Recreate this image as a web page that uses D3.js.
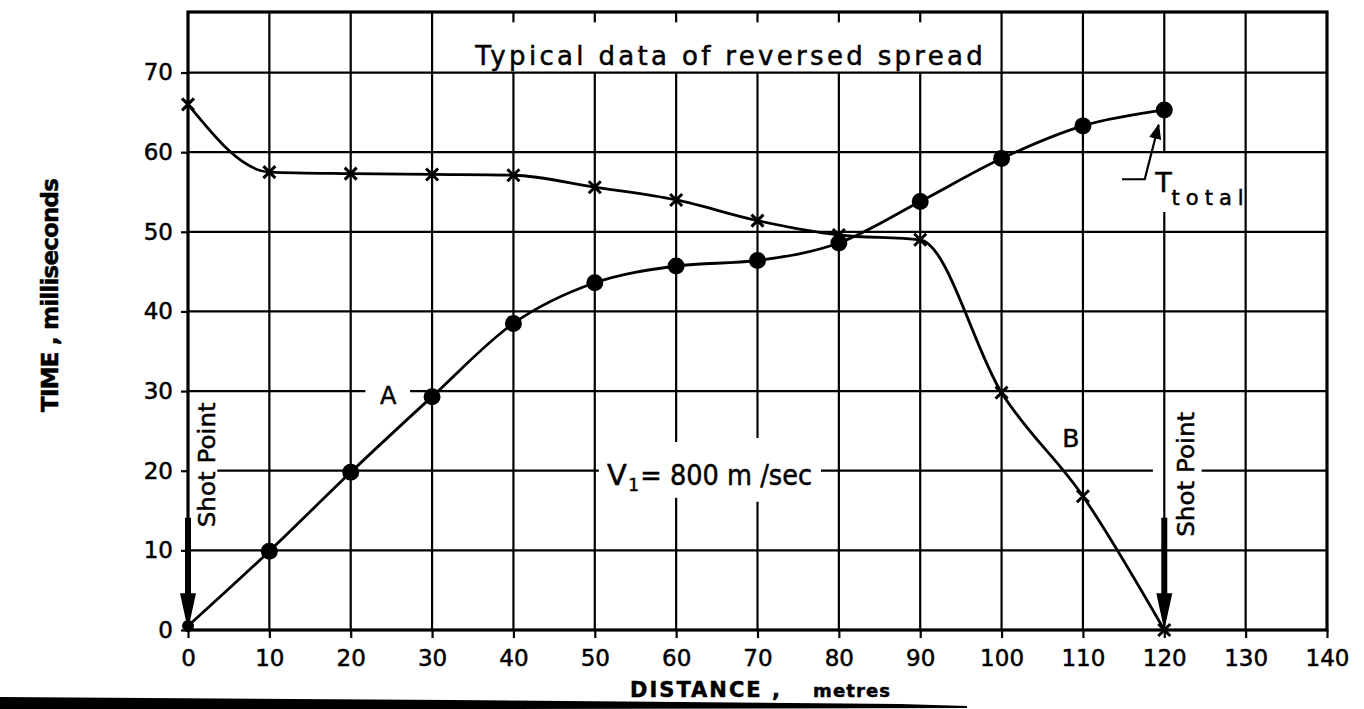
<!DOCTYPE html>
<html>
<head>
<meta charset="utf-8">
<script src="https://cdn.jsdelivr.net/npm/d3@7"></script>
<style>
  html, body { margin: 0; padding: 0; background: #fff; }
  svg { display: block; }
  text { font-family: "DejaVu Sans", sans-serif; fill: #000; stroke: #000; stroke-width: 0.5px; }
</style>
</head>
<body>
<svg width="1364" height="709"></svg>
<script>
// distance along the spread (metres) and arrival times (ms)
const distance = [0, 10, 20, 30, 40, 50, 60, 70, 80, 90, 100, 110, 120];
const timeA = [0.5, 9.9, 19.8, 29.3, 38.5, 43.6, 45.7, 46.4, 48.6, 53.8, 59.2, 63.3, 65.3];
const timeB = [66.0, 57.5, 57.3, 57.2, 57.1, 55.6, 54.0, 51.4, 49.6, 49.0, 29.8, 16.8, 0];

const xTicks = [0, 10, 20, 30, 40, 50, 60, 70, 80, 90, 100, 110, 120, 130, 140];
const yTicks = [0, 10, 20, 30, 40, 50, 60, 70];

const svg = d3.select("svg");
const x = d3.scaleLinear().domain([0, 140]).range([188, 1327]);
const y = d3.scaleLinear().domain([0, 77.6]).range([630, 12]);

// gaps in the grid, where labels sit (data units)
const hGaps = {
  20: [[0, 3.6], [50.5, 77.8], [118.6, 124.6]],
  30: [[21.8, 27.3]]
};
const vGaps = {
  40: [[70, 76.3]], 50: [[70, 76.3]],
  60: [[16.6, 23.6], [70, 76.3]],
  70: [[16.1, 24.1], [70, 76.3]],
  80: [[70, 76.3]], 90: [[70, 76.3]],
  120: [[52.5, 60]]
};

function split(lo, hi, gaps) {
  let segs = [];
  let start = lo;
  for (let g of (gaps || [])) {
    if (g[0] > start) segs.push([start, g[0]]);
    start = g[1];
  }
  if (start < hi) segs.push([start, hi]);
  return segs;
}

let grid = svg.append("g").attr("class", "grid")
  .attr("stroke", "#000").attr("stroke-width", 2.2);
for (let t of yTicks.slice(1)) {
  for (let s of split(0, 140, hGaps[t])) {
    grid.append("line")
      .attr("x1", x(s[0])).attr("x2", x(s[1]))
      .attr("y1", y(t)).attr("y2", y(t));
  }
}
for (let t of xTicks.slice(1, -1)) {
  for (let s of split(0, 77.6, vGaps[t])) {
    grid.append("line")
      .attr("x1", x(t)).attr("x2", x(t))
      .attr("y1", y(s[0])).attr("y2", y(s[1]));
  }
}

// frame
svg.append("rect")
  .attr("x", x(0)).attr("y", y(77.6))
  .attr("width", x(140) - x(0)).attr("height", y(0) - y(77.6))
  .attr("fill", "none").attr("stroke", "#000").attr("stroke-width", 3.2);

// axes
let xAxis = svg.append("g")
  .attr("transform", "translate(0," + y(0) + ")")
  .call(d3.axisBottom(x).tickValues(xTicks).tickSize(8).tickPadding(12));
let yAxis = svg.append("g")
  .attr("transform", "translate(" + x(0) + ",0)")
  .call(d3.axisLeft(y).tickValues(yTicks).tickSize(7).tickPadding(8));
for (let ax of [xAxis, yAxis]) {
  ax.select(".domain").remove();
  ax.selectAll(".tick line").attr("stroke", "#000").attr("stroke-width", 2.2);
  ax.selectAll(".tick text")
    .attr("font-size", 23)
    .attr("font-family", "DejaVu Sans, sans-serif")
    .attr("fill", "#000");
}

// curves
let line = d3.line()
  .x((d, i) => x(distance[i]))
  .y((d) => y(d))
  .curve(d3.curveMonotoneX);

svg.append("path").datum(timeA)
  .attr("d", line).attr("fill", "none")
  .attr("stroke", "#000").attr("stroke-width", 2.8);
svg.append("path").datum(timeB)
  .attr("d", line).attr("fill", "none")
  .attr("stroke", "#000").attr("stroke-width", 2.8);

svg.append("g").selectAll("circle")
  .data(timeA)
  .enter()
  .append("circle")
  .attr("cx", (d, i) => x(distance[i]))
  .attr("cy", (d) => y(d))
  .attr("r", (d, i) => i === 0 ? 6 : 8.5)
  .attr("fill", "#000");

svg.append("g").selectAll("path")
  .data(timeB)
  .enter()
  .append("path")
  .attr("transform", (d, i) => "translate(" + x(distance[i]) + "," + y(d) + ")")
  .attr("d", "M-6,-6L6,6M-6,6L6,-6")
  .attr("stroke", "#000").attr("stroke-width", 3).attr("fill", "none");

// shot point arrows
for (let sp of [0, 120]) {
  svg.append("line")
    .attr("x1", x(sp)).attr("x2", x(sp))
    .attr("y1", y(14.1)).attr("y2", y(4.2))
    .attr("stroke", "#000").attr("stroke-width", 6);
  svg.append("path")
    .attr("d", `M${x(sp) - 8},${y(4.6)}L${x(sp) + 8},${y(4.6)}L${x(sp)},${y(0)}Z`)
    .attr("fill", "#000");
}

// labels
svg.append("rect")
  .attr("x", x(30) + 2).attr("y", y(77.6) + 12)
  .attr("width", x(100) - x(30) - 4).attr("height", y(70) - y(77.6) - 14)
  .attr("fill", "#fff");
svg.append("text")
  .attr("x", x(35.3)).attr("y", y(70.9))
  .attr("font-size", 26)
  .attr("textLength", x(97.7) - x(35.3))
  .attr("lengthAdjust", "spacing")
  .text("Typical data of reversed spread");

svg.append("text")
  .attr("x", x(24.6)).attr("y", y(29.4))
  .attr("font-size", 24).attr("text-anchor", "middle")
  .attr("dominant-baseline", "central")
  .text("A");
svg.append("text")
  .attr("x", x(108.5)).attr("y", y(24.1))
  .attr("font-size", 25).attr("text-anchor", "middle")
  .attr("dominant-baseline", "central")
  .text("B");

svg.append("text")
  .attr("x", x(51.5)).attr("y", y(18.2))
  .attr("font-size", 29)
  .text("V");
svg.append("text")
  .attr("x", x(54.1)).attr("y", y(17.4))
  .attr("font-size", 17)
  .text("1");
svg.append("text")
  .attr("x", x(55.6)).attr("y", y(18.2))
  .attr("font-size", 28)
  .attr("textLength", x(76.7) - x(55.6))
  .attr("lengthAdjust", "spacingAndGlyphs")
  .text("= 800 m /sec");

for (let sp of [[3.3, 12.9], [123.7, 11.7]]) {
  svg.append("text")
    .attr("transform", "translate(" + x(sp[0]) + "," + y(sp[1]) + ") rotate(-90)")
    .attr("font-size", 23)
    .attr("textLength", 125)
    .attr("lengthAdjust", "spacingAndGlyphs")
    .text("Shot Point");
}

// T total leader
svg.append("defs").append("marker")
  .attr("id", "head")
  .attr("viewBox", "0 0 10 10")
  .attr("refX", 9).attr("refY", 5)
  .attr("markerWidth", 7).attr("markerHeight", 7)
  .attr("orient", "auto")
  .append("path").attr("d", "M0,1L10,5L0,9Z").attr("fill", "#000");
svg.append("path")
  .attr("d", d3.line()([[x(114.8), y(56.6)], [x(117.6), y(56.6)], [x(119.3), y(63.4)]]))
  .attr("fill", "none").attr("stroke", "#000").attr("stroke-width", 2.2)
  .attr("marker-end", "url(#head)");
svg.append("text")
  .attr("x", x(118.9)).attr("y", y(55.0))
  .attr("font-size", 27)
  .text("T");
svg.append("text")
  .attr("x", x(120.9)).attr("y", y(53.4))
  .attr("font-size", 21)
  .attr("textLength", 72)
  .attr("lengthAdjust", "spacing")
  .text("total");

// axis titles
svg.append("text")
  .attr("x", 630).attr("y", 697)
  .attr("font-size", 21).attr("font-weight", "bold")
  .attr("textLength", 150)
  .attr("lengthAdjust", "spacing")
  .text("DISTANCE ,");
svg.append("text")
  .attr("x", 813).attr("y", 697)
  .attr("font-size", 18).attr("font-weight", "bold")
  .attr("textLength", 77)
  .attr("lengthAdjust", "spacing")
  .text("metres");
svg.append("text")
  .attr("transform", "translate(58,412) rotate(-90)")
  .attr("font-size", 23).attr("font-weight", "bold")
  .attr("textLength", 234)
  .attr("lengthAdjust", "spacing")
  .text("TIME , milliseconds");

// scan edge along the bottom
svg.append("path")
  .attr("d", "M0,697L450,700L900,704L967,706L967,708L0,710Z")
  .attr("fill", "#000");
</script>
</body>
</html>
